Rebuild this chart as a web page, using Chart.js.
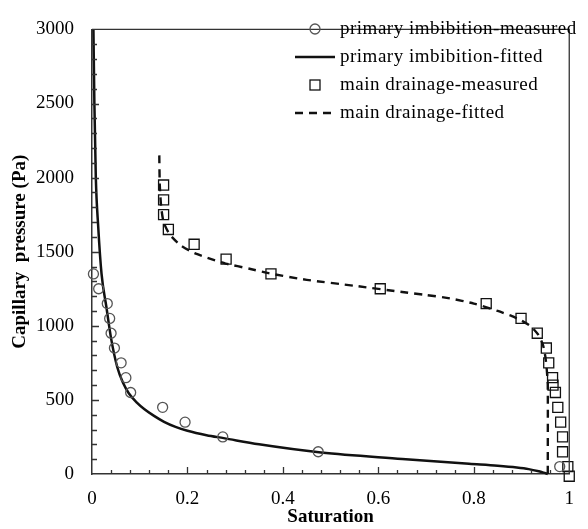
<!DOCTYPE html>
<html>
<head>
<meta charset="utf-8">
<script src="https://cdn.jsdelivr.net/npm/chart.js@4.4.1/dist/chart.umd.min.js"></script>
<style>
    html, body { margin: 0; padding: 0; background: #fff; }
</style>
</head>
<body>
<canvas id="myScatterChart" width="588" height="529"></canvas>
<script>
// primary imbibition - measured (circles)
var imbSat = [0.003, 0.014, 0.032, 0.037, 0.040, 0.047, 0.061, 0.071, 0.081, 0.148, 0.195, 0.274, 0.474, 0.980];
var imbPc = [1350, 1250, 1150, 1050, 950, 850, 750, 650, 550, 450, 350, 250, 150, 50];

// primary imbibition - fitted (solid line)
var imbFitSat = [0.003, 0.005, 0.008, 0.013, 0.020, 0.030, 0.040, 0.053, 0.065, 0.077, 0.094, 0.110, 0.130, 0.151, 0.175, 0.200, 0.240, 0.276, 0.350, 0.480, 0.650, 0.790, 0.850, 0.890, 0.915, 0.936, 0.946, 0.955];
var imbFitPc = [3000, 2500, 2000, 1670, 1350, 1130, 915, 720, 615, 545, 482, 437, 392, 352, 318, 292, 262, 242, 200, 145, 102, 69, 56, 44, 33, 18, 9, 0];

// main drainage - measured (squares)
var drnSat = [0.150, 0.150, 0.150, 0.160, 0.214, 0.281, 0.375, 0.604, 0.826, 0.899, 0.933, 0.952, 0.957, 0.965, 0.966, 0.971, 0.976, 0.982, 0.986, 0.986, 0.997, 1.000];
var drnPc = [1950, 1850, 1750, 1650, 1550, 1450, 1350, 1250, 1150, 1050, 950, 850, 750, 650, 600, 550, 450, 350, 250, 150, 50, -15];

// main drainage - fitted (dashed line)
var drnFitSat = [0.141, 0.142, 0.145, 0.150, 0.162, 0.185, 0.215, 0.250, 0.280, 0.330, 0.370, 0.450, 0.550, 0.650, 0.700, 0.750, 0.800, 0.850, 0.880, 0.900, 0.920, 0.935, 0.945, 0.950, 0.953, 0.955, 0.955];
var drnFitPc = [2150, 1950, 1800, 1700, 1620, 1545, 1490, 1450, 1420, 1385, 1355, 1310, 1270, 1228, 1208, 1185, 1150, 1100, 1065, 1035, 995, 940, 870, 790, 700, 600, 0];

// axis ticks
var xTicks = [0, 0.2, 0.4, 0.6, 0.8, 1];
var yTicks = [0, 500, 1000, 1500, 2000, 2500, 3000];

function toPoints(xs, ys) {
    return xs.map(function (x, i) { return { x: x, y: ys[i] }; });
}

// inward tick marks + top/right frame
var frameTicks = {
    id: 'frameTicks',
    afterDraw: function (chart) {
        var ctx = chart.ctx, a = chart.chartArea;
        var xs = chart.scales.x, ys = chart.scales.y;
        ctx.save();
        ctx.strokeStyle = '#333';
        ctx.lineWidth = 1.3;
        ctx.beginPath();
        ctx.moveTo(a.left, a.top);
        ctx.lineTo(a.right, a.top);
        ctx.lineTo(a.right, a.bottom);
        ctx.stroke();
        ctx.beginPath();
        for (var i = 1; i < 25; i++) {
            var px = Math.round(xs.getPixelForValue(i * 0.04)) + 0.5;
            var len = (i % 5 === 0) ? 7 : 4;
            ctx.moveTo(px, a.bottom);
            ctx.lineTo(px, a.bottom - len);
        }
        for (var j = 1; j < 30; j++) {
            var py = Math.round(ys.getPixelForValue(j * 100)) + 0.5;
            var l2 = (j % 5 === 0) ? 7 : 5;
            ctx.moveTo(a.left, py);
            ctx.lineTo(a.left + l2, py);
        }
        ctx.stroke();
        ctx.restore();
    }
};

// legend drawn inside the plot, top right
var insideLegend = {
    id: 'insideLegend',
    afterDraw: function (chart) {
        var ctx = chart.ctx;
        ctx.save();
        ctx.font = '19px "Liberation Serif"';
        ctx.textBaseline = 'middle';
        if ('letterSpacing' in ctx) ctx.letterSpacing = '0.5px';
        chart.data.datasets.forEach(function (ds, i) {
            var y = 29 + i * 28;
            var xm = 315;
            ctx.strokeStyle = ds.borderColor;
            if (ds.showLine) {
                ctx.lineWidth = ds.borderWidth;
                ctx.setLineDash(ds.borderDash || []);
                ctx.beginPath();
                ctx.moveTo(xm - 20, y);
                ctx.lineTo(xm + 20, y);
                ctx.stroke();
                ctx.setLineDash([]);
            } else if (ds.pointStyle === 'rect') {
                ctx.lineWidth = ds.pointBorderWidth;
                ctx.strokeRect(xm - 5, y - 5, 10, 10);
            } else {
                ctx.lineWidth = ds.pointBorderWidth;
                ctx.beginPath();
                ctx.arc(xm, y, ds.pointRadius, 0, Math.PI * 2);
                ctx.stroke();
            }
            ctx.fillStyle = '#000';
            ctx.fillText(ds.label, 340, y);
        });
        ctx.restore();
    }
};

Chart.defaults.font.family = '"Liberation Serif", "Times New Roman", serif';
Chart.defaults.color = '#000';

var ctx = document.getElementById('myScatterChart').getContext('2d');
var chart = new Chart(ctx, {
    type: 'scatter',
    data: {
        datasets: [{
            label: 'primary imbibition-measured',
            data: toPoints(imbSat, imbPc),
            pointStyle: 'circle',
            pointRadius: 5,
            pointBorderWidth: 1.3,
            borderColor: '#555',
            backgroundColor: 'rgba(0,0,0,0)',
            showLine: false,
            clip: false
        }, {
            label: 'primary imbibition-fitted',
            data: toPoints(imbFitSat, imbFitPc),
            showLine: true,
            pointRadius: 0,
            borderColor: '#111',
            borderWidth: 2.5,
            cubicInterpolationMode: 'monotone',
            clip: false
        }, {
            label: 'main drainage-measured',
            data: toPoints(drnSat, drnPc),
            pointStyle: 'rect',
            pointRadius: 7.1,
            pointBorderWidth: 1.3,
            borderColor: '#111',
            backgroundColor: 'rgba(0,0,0,0)',
            showLine: false,
            clip: false
        }, {
            label: 'main drainage-fitted',
            data: toPoints(drnFitSat, drnFitPc),
            showLine: true,
            pointRadius: 0,
            borderColor: '#111',
            borderWidth: 2.4,
            borderDash: [8, 6],
            tension: 0.2,
            clip: false
        }]
    },
    options: {
        responsive: false,
        animation: false,
        layout: { padding: { top: 13, right: 3, left: 0, bottom: 0 } },
        plugins: {
            legend: { display: false },
            tooltip: { enabled: false }
        },
        scales: {
            x: {
                type: 'linear',
                min: 0,
                max: 1,
                afterBuildTicks: function (scale) {
                    scale.ticks = xTicks.map(function (v) { return { value: v }; });
                },
                afterFit: function (scale) { scale.height = 55; },
                grid: { display: false, drawTicks: false },
                border: { display: true, color: '#333', width: 1.5 },
                ticks: {
                    padding: 14,
                    maxRotation: 0,
                    font: { size: 19 },
                    callback: function (v) { return String(Math.round(v * 10) / 10); }
                },
                title: {
                    display: true,
                    text: 'Saturation',
                    font: { size: 19, weight: 'bold' },
                    padding: { top: 0, bottom: 1 }
                }
            },
            y: {
                type: 'linear',
                min: 0,
                max: 3000,
                afterBuildTicks: function (scale) {
                    scale.ticks = yTicks.map(function (v) { return { value: v }; });
                },
                afterFit: function (scale) { scale.width = 92; },
                grid: { display: false, drawTicks: false },
                border: { display: true, color: '#333', width: 1.5 },
                ticks: {
                    padding: 18,
                    font: { size: 19 },
                    callback: function (v) { return String(v); }
                },
                title: {
                    display: true,
                    text: 'Capillary  pressure (Pa)',
                    font: { size: 19, weight: 'bold' },
                    padding: { top: 9, bottom: 0 }
                }
            }
        }
    },
    plugins: [frameTicks, insideLegend]
});
</script>
</body>
</html>
